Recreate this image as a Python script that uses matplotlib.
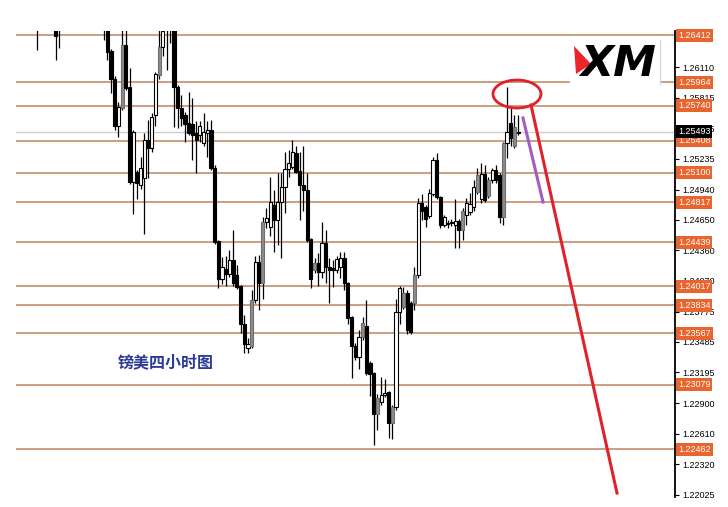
import matplotlib
matplotlib.use("Agg")
import matplotlib.pyplot as plt
import matplotlib.transforms as mtransforms
from matplotlib.patches import Ellipse, Rectangle, Polygon
from matplotlib.lines import Line2D
import numpy as np

# 4h GBPUSD candles (open, high, low, close)
opens = [1.2652, 1.2655, 1.2658, 1.2662, 1.2659, 1.2655, 1.2648, 1.2652, 1.2657, 1.2665,
         1.2669, 1.2667, 1.2661, 1.2668, 1.2664, 1.2659, 1.2656, 1.2654, 1.2652, 1.2650,
         1.2626, 1.2600, 1.2555, 1.2572, 1.2632, 1.2592, 1.2501, 1.2511, 1.2498, 1.2505,
         1.2541, 1.2534, 1.2565, 1.2603, 1.2630, 1.2650, 1.2655, 1.2652, 1.2592, 1.2572,
         1.2565, 1.2558, 1.2557, 1.2548, 1.2546, 1.2538, 1.2548, 1.2551, 1.2515, 1.2445,
         1.2409, 1.2418, 1.2413, 1.2427, 1.2412, 1.2402, 1.2366, 1.2343, 1.2345, 1.2389,
         1.2425, 1.2405, 1.2463, 1.2458, 1.2479, 1.2465, 1.2482, 1.2496, 1.2514, 1.2516,
         1.2529, 1.2512, 1.2498, 1.2494, 1.2447, 1.2417, 1.2424, 1.2415, 1.2443, 1.2420,
         1.2419, 1.2417, 1.2420, 1.2429, 1.2405, 1.2372, 1.2345, 1.2334, 1.2353, 1.2364,
         1.2328, 1.2319, 1.2280, 1.2291, 1.2298, 1.2301, 1.2271, 1.2286, 1.2377, 1.2395,
         1.2395, 1.2386, 1.2386, 1.2412, 1.2481, 1.2477, 1.2469, 1.2490, 1.2522, 1.2487,
         1.2460, 1.2461, 1.2462, 1.2460, 1.2464, 1.2455, 1.2470, 1.2473, 1.2477, 1.2492,
         1.2485, 1.2509, 1.2488, 1.2503, 1.2513, 1.2508, 1.2468, 1.2538, 1.2558, 1.2554,
         1.2548]
highs = [1.2656, 1.2662, 1.2666, 1.2668, 1.2663, 1.2658, 1.2657, 1.2660, 1.2668, 1.2672,
         1.2676, 1.2671, 1.2670, 1.2674, 1.2667, 1.2663, 1.2660, 1.2658, 1.2656, 1.2654,
         1.2628, 1.2602, 1.2578, 1.2650, 1.2650, 1.2610, 1.2551, 1.2513, 1.2525, 1.2548,
         1.2560, 1.2567, 1.2606, 1.2650, 1.2650, 1.2660, 1.2662, 1.2655, 1.2594, 1.2584,
         1.2568, 1.2587, 1.2581, 1.2559, 1.2559, 1.2567, 1.2559, 1.2560, 1.2517, 1.2446,
         1.2430, 1.2431, 1.2436, 1.2455, 1.2422, 1.2403, 1.2374, 1.2352, 1.2398, 1.2431,
         1.2432, 1.2468, 1.2476, 1.2506, 1.2494, 1.2510, 1.2510, 1.2530, 1.2532, 1.2541,
         1.2536, 1.2530, 1.2536, 1.2510, 1.2448, 1.2429, 1.2433, 1.2463, 1.2455, 1.2429,
         1.2427, 1.2431, 1.2434, 1.2434, 1.2406, 1.2373, 1.2348, 1.2360, 1.2372, 1.2389,
         1.2330, 1.2320, 1.2299, 1.2315, 1.2313, 1.2302, 1.2288, 1.2390, 1.2402, 1.2401,
         1.2398, 1.2388, 1.2420, 1.2486, 1.2490, 1.2479, 1.2495, 1.2525, 1.2529, 1.2488,
         1.2470, 1.2465, 1.2466, 1.2485, 1.2466, 1.2476, 1.2486, 1.2491, 1.2503, 1.2515,
         1.2519, 1.2517, 1.2506, 1.2515, 1.2517, 1.2510, 1.2539, 1.2592, 1.2572, 1.2565,
         1.2565]
lows = [1.2627, 1.2651, 1.2654, 1.2656, 1.2652, 1.2618, 1.2629, 1.2649, 1.2654, 1.2660,
        1.2663, 1.2658, 1.2657, 1.2662, 1.2655, 1.2652, 1.2650, 1.2649, 1.2637, 1.2618,
        1.2586, 1.2551, 1.2544, 1.2570, 1.2589, 1.2499, 1.2471, 1.2485, 1.2495, 1.2452,
        1.2505, 1.2530, 1.2555, 1.2600, 1.2622, 1.2608, 1.2634, 1.2554, 1.2553, 1.2555,
        1.2539, 1.2546, 1.2522, 1.2510, 1.2539, 1.2536, 1.2525, 1.2513, 1.2442, 1.2400,
        1.2404, 1.2402, 1.2411, 1.2402, 1.2399, 1.2357, 1.2338, 1.2338, 1.2343, 1.2386,
        1.2379, 1.2390, 1.2457, 1.2450, 1.2434, 1.2441, 1.2429, 1.2472, 1.2506, 1.2514,
        1.2510, 1.2465, 1.2474, 1.2444, 1.2400, 1.2414, 1.2402, 1.2410, 1.2405, 1.2386,
        1.2401, 1.2414, 1.2410, 1.2398, 1.2366, 1.2314, 1.2331, 1.2323, 1.2350, 1.2317,
        1.2297, 1.2250, 1.2264, 1.2288, 1.2296, 1.2257, 1.2256, 1.2284, 1.2366, 1.2380,
        1.2356, 1.2356, 1.2379, 1.2410, 1.2465, 1.2458, 1.2467, 1.2488, 1.2485, 1.2457,
        1.2458, 1.2457, 1.2459, 1.2438, 1.2438, 1.2446, 1.2460, 1.2470, 1.2474, 1.2490,
        1.2481, 1.2482, 1.2486, 1.2500, 1.2500, 1.2462, 1.2460, 1.2524, 1.2536, 1.2534,
        1.2546]
closes = [1.2649, 1.2658, 1.2662, 1.2659, 1.2655, 1.2641, 1.2652, 1.2657, 1.2665, 1.2669,
          1.2667, 1.2661, 1.2668, 1.2664, 1.2659, 1.2656, 1.2654, 1.2652, 1.2650, 1.2625,
          1.2600, 1.2555, 1.2573, 1.2632, 1.2591, 1.2501, 1.2549, 1.2500, 1.2515, 1.2541,
          1.2534, 1.2563, 1.2604, 1.2630, 1.2645, 1.2655, 1.2652, 1.2592, 1.2572, 1.2562,
          1.2557, 1.2548, 1.2546, 1.2541, 1.2555, 1.2549, 1.2551, 1.2515, 1.2444, 1.2409,
          1.2420, 1.2413, 1.2427, 1.2405, 1.2401, 1.2366, 1.2347, 1.2347, 1.2389, 1.2425,
          1.2405, 1.2463, 1.2467, 1.2482, 1.2465, 1.2482, 1.2496, 1.2514, 1.2519, 1.2530,
          1.2511, 1.2498, 1.2494, 1.2446, 1.2409, 1.2424, 1.2415, 1.2443, 1.2420, 1.2417,
          1.2417, 1.2428, 1.2429, 1.2405, 1.2371, 1.2345, 1.2334, 1.2353, 1.2367, 1.2319,
          1.2318, 1.2280, 1.2295, 1.2298, 1.2300, 1.2271, 1.2286, 1.2377, 1.2400, 1.2382,
          1.2360, 1.2358, 1.2412, 1.2481, 1.2474, 1.2466, 1.2491, 1.2522, 1.2487, 1.2460,
          1.2468, 1.2462, 1.2463, 1.2464, 1.2455, 1.2474, 1.2481, 1.2480, 1.2496, 1.2508,
          1.2509, 1.2484, 1.2503, 1.2513, 1.2503, 1.2468, 1.2538, 1.2549, 1.2543, 1.2536,
          1.2549]
# candles that show up grey in the screenshot
gray_idx = [23, 33, 58, 61, 75, 88, 92, 96, 99, 102, 115, 119, 122, 126, 129]

# support / resistance levels with their boxed labels
levels = [1.26412, 1.25964, 1.25740, 1.25408, 1.25100, 1.24817,
          1.24439, 1.24017, 1.23834, 1.23567, 1.23079, 1.22462]
current_price = 1.25493
price_ticks = [1.26110, 1.25815, 1.25525, 1.25235, 1.24940, 1.24650, 1.24360, 1.24070,
               1.23775, 1.23485, 1.23195, 1.22900, 1.22610, 1.22320, 1.22025]
title_text = "镑美四小时图"

W, H = 728, 507


def px(x, y):
    # pixel position -> figure fraction (for the drawn-on annotations)
    return x / W, 1 - y / H


fig = plt.figure(figsize=(W / 100, H / 100), dpi=100)
fig.patch.set_facecolor("white")
ax = fig.add_axes([16 / W, 10 / H, 659 / W, 466 / H])
ax.set_facecolor("white")

o = np.array(opens)
h = np.array(highs)
l = np.array(lows)
c = np.array(closes)
x = np.arange(len(o))

faces = np.where(c >= o, "white", "black").astype(object)
edges = np.array(["black"] * len(o), dtype=object)
for i in gray_idx:
    faces[i] = "#8c8c8c"
    edges[i] = "#6e6e6e"

ax.vlines(x, l, h, color="black", linewidth=0.9, zorder=3)
bottom = np.minimum(o, c)
height = np.maximum(np.abs(c - o), 0.00004)
ax.bar(x, height, bottom=bottom, width=0.85, color=list(faces),
       edgecolor=list(edges), linewidth=0.8, zorder=4)

# horizontal levels
for lvl in levels:
    ax.axhline(lvl, color="#c28e6a", linewidth=1.2, zorder=2)
ax.axhline(current_price, color="#cfcfcf", linewidth=1.0, zorder=2)

ax.set_xlim(-5.68, 172.4)
ax.set_ylim(1.22005, 1.26454)

for side in ["left", "top", "bottom"]:
    ax.spines[side].set_visible(False)
ax.spines["right"].set_color("black")
ax.spines["right"].set_linewidth(1.3)
ax.set_xticks([])
ax.yaxis.tick_right()
ax.set_yticks(price_ticks)
ax.set_yticklabels([f"{t:.5f}" for t in price_ticks], fontsize=6.5,
                   family="Liberation Sans")
ax.tick_params(axis="y", length=3, width=0.8, pad=2, colors="black")

trans = mtransforms.blended_transform_factory(ax.transAxes, ax.transData)
for lvl in levels:
    ax.text(1.0 + 3 / 659, lvl, f"{lvl:.5f}", transform=trans, ha="left", va="center",
            fontsize=6.5, family="Liberation Sans", color="white", zorder=10, clip_on=False,
            bbox=dict(boxstyle="square,pad=0.22", fc="#e9652f", ec="none"))
ax.text(1.0 + 3 / 659, current_price, f"{current_price:.5f}", transform=trans, ha="left",
        va="center", fontsize=6.5, family="Liberation Sans", color="white", zorder=11,
        clip_on=False, bbox=dict(boxstyle="square,pad=0.22", fc="black", ec="none"))

# XM logo box
x0, y0 = px(570, 84)
x1, y1 = px(660, 40)
fig.add_artist(Rectangle((x0, y0), x1 - x0, y1 - y0, transform=fig.transFigure,
                         facecolor="white", edgecolor="none", zorder=5))
fig.add_artist(Line2D([x1, x1], [y0, y1], transform=fig.transFigure,
                      color="#d8d8d8", linewidth=1, zorder=6))
fig.add_artist(Polygon([px(574, 46), px(591, 64), px(576, 74)], closed=True,
                       transform=fig.transFigure, facecolor="#e8262c",
                       edgecolor="none", zorder=7))
tx, ty = px(580, 64)
fig.text(tx, ty, "XM", fontsize=31, weight="bold", style="italic", color="black",
         family="DejaVu Sans", ha="left", va="center", zorder=8)

# chart caption
tx, ty = px(118, 362)
fig.text(tx, ty, title_text, fontsize=11.5, weight="bold", color="#2c3b93",
         family=["Noto Sans CJK SC", "DejaVu Sans"], ha="left", va="center", zorder=8)

# hand-drawn marks: circle at the top, purple and red downward lines
ex, ey = px(517, 94)
fig.add_artist(Ellipse((ex, ey), 48 / W, 28 / H, transform=fig.transFigure,
                       facecolor="none", edgecolor="#e0202a", linewidth=2, zorder=9))
(ax0, ay0), (ax1, ay1) = px(531, 105), px(617, 493)
fig.add_artist(Line2D([ax0, ax1], [ay0, ay1], transform=fig.transFigure,
                      color="#e0202a", linewidth=2.2, zorder=9))
(bx0, by0), (bx1, by1) = px(523, 118), px(543, 202)
fig.add_artist(Line2D([bx0, bx1], [by0, by1], transform=fig.transFigure,
                      color="#a45cc4", linewidth=2.2, zorder=9))

fig.savefig("out.png", dpi=100, facecolor="white")
